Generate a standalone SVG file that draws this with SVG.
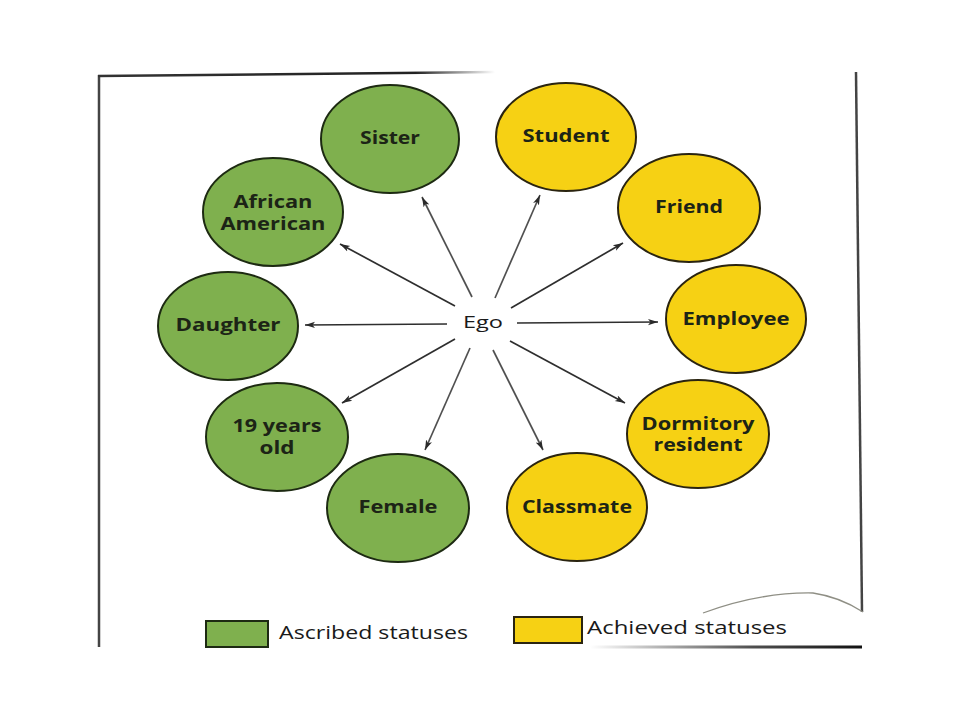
<svg xmlns="http://www.w3.org/2000/svg" width="960" height="720" viewBox="0 0 960 720">
  <defs>
    <style>
      .asc { fill: #7fb04e; stroke: #1d2a12; stroke-width: 2; }
      .ach { fill: #f6d114; stroke: #2a2410; stroke-width: 2; }
      .lbl { font-family: "Open Sans", "Liberation Sans", sans-serif; font-weight: bold; font-size: 17px; fill: #1c2416; text-anchor: middle; }
      .ego { font-family: "Open Sans", "Liberation Sans", sans-serif; font-size: 17px; fill: #1a1a1a; text-anchor: middle; }
      .leg { font-family: "Open Sans", "Liberation Sans", sans-serif; font-size: 19px; fill: #1a1a1a; }
      .arr { stroke: #2e2e2e; stroke-width: 1.7; fill: none; marker-end: url(#ah); }
      .arr.light { stroke: #505050; }
      .frame { stroke: #444444; stroke-width: 2.5; fill: none; }
    </style>
    <marker id="ah" markerWidth="10" markerHeight="8" refX="10" refY="4" orient="auto" markerUnits="userSpaceOnUse">
      <path d="M0,0.8 L10,4 L0,7.2 L2.5,4 z" fill="#2a2a2a"/>
    </marker>
    <linearGradient id="topfade" gradientUnits="userSpaceOnUse" x1="98" y1="0" x2="495" y2="0">
      <stop offset="0" stop-color="#333"/>
      <stop offset="0.8" stop-color="#222"/>
      <stop offset="1" stop-color="#222" stop-opacity="0"/>
    </linearGradient>
    <linearGradient id="botfade" gradientUnits="userSpaceOnUse" x1="590" y1="0" x2="862" y2="0">
      <stop offset="0" stop-color="#222" stop-opacity="0"/>
      <stop offset="0.6" stop-color="#222" stop-opacity="0.8"/>
      <stop offset="1" stop-color="#111"/>
    </linearGradient>
  </defs>
  <rect width="960" height="720" fill="#ffffff"/>

  <g id="frame">
    <line x1="99" y1="75" x2="99" y2="647" class="frame"/>
    <line x1="98" y1="76" x2="495" y2="72" stroke="url(#topfade)" stroke-width="2.5"/>
    <line x1="856" y1="72" x2="862" y2="612" class="frame"/>
    <line x1="590" y1="647" x2="862" y2="647" stroke="url(#botfade)" stroke-width="3"/>
    <path d="M703,613 Q760,592 813,593 Q840,597 863,612" stroke="#8f8f85" stroke-width="1.3" fill="none"/>
  </g>

  <g id="connectors">
    <line class="arr light" x1="472" y1="297" x2="422" y2="197"/>
    <line class="arr" x1="455" y1="306" x2="340" y2="244"/>
    <line class="arr" x1="447" y1="324" x2="305" y2="325"/>
    <line class="arr" x1="455" y1="339" x2="342" y2="403"/>
    <line class="arr light" x1="470" y1="348" x2="425" y2="450"/>
    <line class="arr light" x1="493" y1="350" x2="543" y2="450"/>
    <line class="arr" x1="510" y1="341" x2="625" y2="403"/>
    <line class="arr" x1="517" y1="323" x2="658" y2="322"/>
    <line class="arr" x1="511" y1="308" x2="623" y2="243"/>
    <line class="arr light" x1="495" y1="298" x2="540" y2="195"/>
  </g>

  <g id="ego">
    <text class="ego" x="483" y="328" textLength="40" lengthAdjust="spacingAndGlyphs">Ego</text>
  </g>

  <g id="sister">
    <ellipse class="asc" cx="390" cy="139" rx="69" ry="54"/>
    <text class="lbl" x="390" y="144" textLength="60" lengthAdjust="spacingAndGlyphs">Sister</text>
  </g>
  <g id="african-american">
    <ellipse class="asc" cx="273" cy="212" rx="70" ry="54"/>
    <text class="lbl" x="273" y="208" textLength="79" lengthAdjust="spacingAndGlyphs">African</text>
    <text class="lbl" x="273" y="230" textLength="105" lengthAdjust="spacingAndGlyphs">American</text>
  </g>
  <g id="daughter">
    <ellipse class="asc" cx="228" cy="326" rx="70" ry="54"/>
    <text class="lbl" x="228" y="331" textLength="105" lengthAdjust="spacingAndGlyphs">Daughter</text>
  </g>
  <g id="nineteen-years-old">
    <ellipse class="asc" cx="277" cy="437" rx="71" ry="54"/>
    <text class="lbl" x="277" y="432" textLength="89" lengthAdjust="spacingAndGlyphs">19 years</text>
    <text class="lbl" x="277" y="454" textLength="35" lengthAdjust="spacingAndGlyphs">old</text>
  </g>
  <g id="female">
    <ellipse class="asc" cx="398" cy="508" rx="71" ry="54"/>
    <text class="lbl" x="398" y="513" textLength="79" lengthAdjust="spacingAndGlyphs">Female</text>
  </g>
  <g id="student">
    <ellipse class="ach" cx="566" cy="137" rx="70" ry="54"/>
    <text class="lbl" x="566" y="142" textLength="87" lengthAdjust="spacingAndGlyphs">Student</text>
  </g>
  <g id="friend">
    <ellipse class="ach" cx="689" cy="208" rx="71" ry="54"/>
    <text class="lbl" x="689" y="213" textLength="68" lengthAdjust="spacingAndGlyphs">Friend</text>
  </g>
  <g id="employee">
    <ellipse class="ach" cx="736" cy="319" rx="70" ry="54"/>
    <text class="lbl" x="736" y="325" textLength="107" lengthAdjust="spacingAndGlyphs">Employee</text>
  </g>
  <g id="dormitory-resident">
    <ellipse class="ach" cx="698" cy="434" rx="71" ry="54"/>
    <text class="lbl" x="698" y="430" textLength="113" lengthAdjust="spacingAndGlyphs">Dormitory</text>
    <text class="lbl" x="698" y="451" textLength="89" lengthAdjust="spacingAndGlyphs">resident</text>
  </g>
  <g id="classmate">
    <ellipse class="ach" cx="577" cy="507" rx="70" ry="54"/>
    <text class="lbl" x="577" y="513" textLength="110" lengthAdjust="spacingAndGlyphs">Classmate</text>
  </g>

  <g id="legend">
    <rect class="asc" x="206" y="621" width="62" height="26"/>
    <text class="leg" x="279" y="639" textLength="189" lengthAdjust="spacingAndGlyphs">Ascribed statuses</text>
    <rect class="ach" x="514" y="617" width="68" height="26"/>
    <text class="leg" x="587" y="634" textLength="200" lengthAdjust="spacingAndGlyphs">Achieved statuses</text>
  </g>
</svg>
